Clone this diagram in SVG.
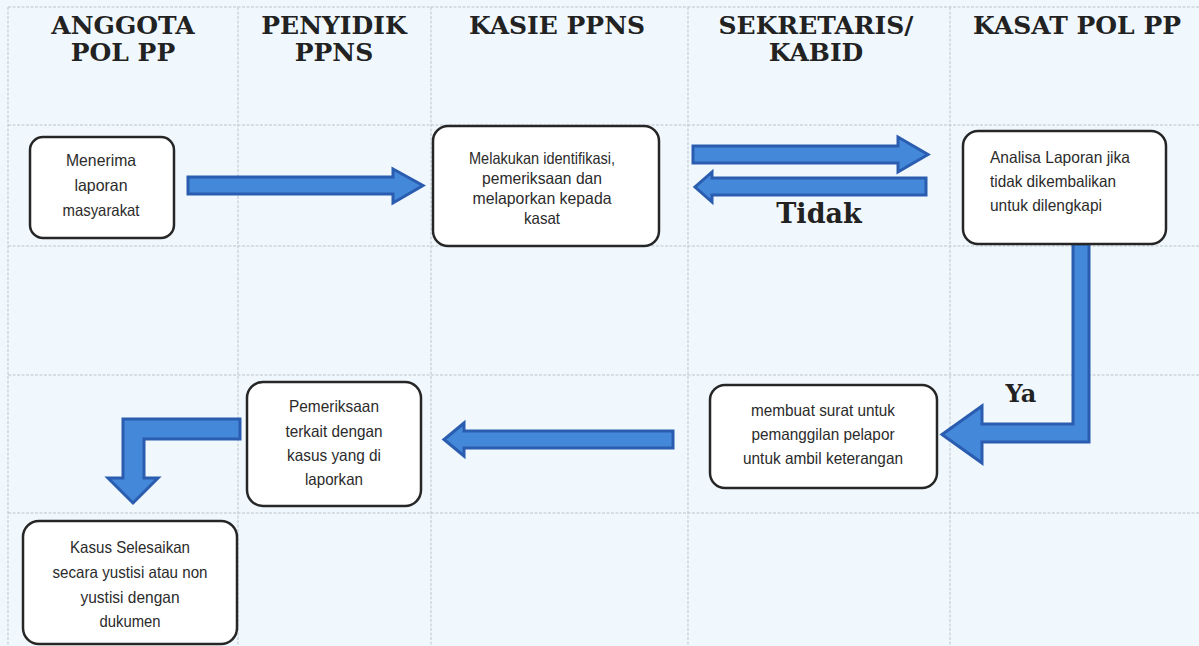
<svg xmlns="http://www.w3.org/2000/svg" width="1199" height="646" viewBox="0 0 1199 646">
<style>
.grid line{stroke:#bcc5cc;stroke-width:1;stroke-dasharray:3 1.5}
.hdr{font-family:"DejaVu Serif","Liberation Serif",serif;font-weight:bold;font-size:25px;fill:#222;text-anchor:middle}
.lbl{font-family:"DejaVu Serif","Liberation Serif",serif;font-weight:bold;fill:#222}
.box{fill:#ffffff;stroke:#262626;stroke-width:2.5}
.txt{font-family:"Liberation Sans",Arial,sans-serif;font-size:16.5px;fill:#2b2b2b;text-anchor:middle}
.txtl{font-family:"Liberation Sans",Arial,sans-serif;font-size:16.5px;fill:#2b2b2b}
.arr{fill:#4488da;stroke:#2a5caf;stroke-width:3;stroke-linejoin:miter}
</style>
<rect x="0" y="0" width="1199" height="646" fill="#f0f8fd"/>
<g class="grid">
<line x1="8" y1="7" x2="1199" y2="7"/>
<line x1="8" y1="125" x2="1199" y2="125"/>
<line x1="8" y1="246" x2="1199" y2="246"/>
<line x1="8" y1="375" x2="1199" y2="375"/>
<line x1="8" y1="513" x2="1199" y2="513"/>
<line x1="8" y1="7" x2="8" y2="646"/>
<line x1="238" y1="7" x2="238" y2="646"/>
<line x1="431" y1="7" x2="431" y2="646"/>
<line x1="688" y1="7" x2="688" y2="646"/>
<line x1="950" y1="7" x2="950" y2="646"/>
</g>
<g id="headers">
<text class="hdr" x="123" y="34">ANGGOTA</text>
<text class="hdr" x="123" y="61">POL PP</text>
<text class="hdr" x="334" y="34">PENYIDIK</text>
<text class="hdr" x="334" y="61">PPNS</text>
<text class="hdr" x="557" y="34">KASIE PPNS</text>
<text class="hdr" x="816" y="34">SEKRETARIS/</text>
<text class="hdr" x="816" y="61">KABID</text>
<text class="hdr" x="1077" y="34">KASAT POL PP</text>
</g>
<g id="connectors">
<path class="arr" d="M188,177 H393 V169 L423,185.5 L393,203 V194 H188 Z"/>
<path class="arr" d="M693,146 H898 V137 L928,154.5 L898,172 V163 H693 Z"/>
<path class="arr" d="M926,178 H712 V172 L695,187 L712,202 V195 H926 Z"/>
<path class="arr" d="M1073,244 H1089 V442 H982 V463 L942,434.5 L982,406 V424 H1073 Z"/>
<path class="arr" d="M673,431 H464 V423 L444,439.5 L464,456 V448 H673 Z"/>
<path class="arr" d="M240,419 V439 H144 V478 H158 L133,503 L108,478 H123 V419 Z"/>
<text class="lbl" x="819" y="223" font-size="27" text-anchor="middle">Tidak</text>
<text class="lbl" x="1021" y="402" font-size="24" text-anchor="middle">Ya</text>
</g>
<g id="node1">
<rect class="box" x="30" y="137" width="144" height="101" rx="13"/>
<text class="txt" x="101" y="166" textLength="70" lengthAdjust="spacingAndGlyphs">Menerima</text>
<text class="txt" x="101" y="191" textLength="53" lengthAdjust="spacingAndGlyphs">laporan</text>
<text class="txt" x="101" y="216" textLength="77" lengthAdjust="spacingAndGlyphs">masyarakat</text>
</g>
<g id="node2">
<rect class="box" x="433" y="126" width="226" height="120" rx="15"/>
<text class="txt" x="542" y="164" textLength="146" lengthAdjust="spacingAndGlyphs">Melakukan identifikasi,</text>
<text class="txt" x="542" y="184" textLength="120" lengthAdjust="spacingAndGlyphs">pemeriksaan dan</text>
<text class="txt" x="542" y="204" textLength="139" lengthAdjust="spacingAndGlyphs">melaporkan kepada</text>
<text class="txt" x="542" y="224" textLength="36" lengthAdjust="spacingAndGlyphs">kasat</text>
</g>
<g id="node3">
<rect class="box" x="963" y="131" width="203" height="113" rx="15"/>
<text class="txtl" x="990" y="163" textLength="140" lengthAdjust="spacingAndGlyphs">Analisa Laporan jika</text>
<text class="txtl" x="990" y="187" textLength="126" lengthAdjust="spacingAndGlyphs">tidak dikembalikan</text>
<text class="txtl" x="990" y="211" textLength="112" lengthAdjust="spacingAndGlyphs">untuk dilengkapi</text>
</g>
<g id="node4">
<rect class="box" x="710" y="385" width="227" height="103" rx="15"/>
<text class="txt" x="823" y="416" textLength="144" lengthAdjust="spacingAndGlyphs">membuat surat untuk</text>
<text class="txt" x="823" y="440" textLength="143" lengthAdjust="spacingAndGlyphs">pemanggilan pelapor</text>
<text class="txt" x="823" y="464" textLength="160" lengthAdjust="spacingAndGlyphs">untuk ambil keterangan</text>
</g>
<g id="node5">
<rect class="box" x="247" y="382" width="174" height="124" rx="16"/>
<text class="txt" x="334" y="412" textLength="90" lengthAdjust="spacingAndGlyphs">Pemeriksaan</text>
<text class="txt" x="334" y="437" textLength="97" lengthAdjust="spacingAndGlyphs">terkait dengan</text>
<text class="txt" x="334" y="461" textLength="94" lengthAdjust="spacingAndGlyphs">kasus yang di</text>
<text class="txt" x="334" y="485" textLength="58" lengthAdjust="spacingAndGlyphs">laporkan</text>
</g>
<g id="node6">
<rect class="box" x="23" y="521" width="214" height="123" rx="16"/>
<text class="txt" x="130" y="553" textLength="120" lengthAdjust="spacingAndGlyphs">Kasus Selesaikan</text>
<text class="txt" x="130" y="578" textLength="155" lengthAdjust="spacingAndGlyphs">secara yustisi atau non</text>
<text class="txt" x="130" y="603" textLength="99" lengthAdjust="spacingAndGlyphs">yustisi dengan</text>
<text class="txt" x="130" y="627" textLength="61" lengthAdjust="spacingAndGlyphs">dukumen</text>
</g>
</svg>
